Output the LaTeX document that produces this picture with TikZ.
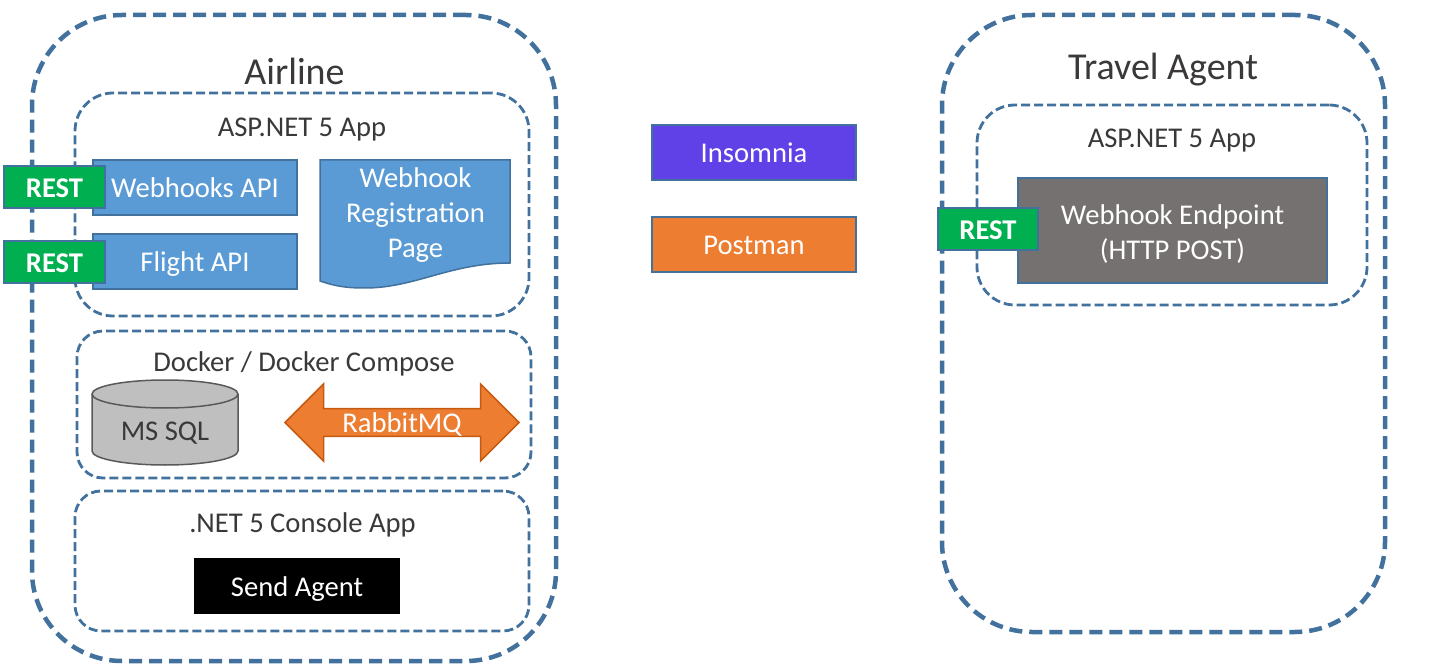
\documentclass[tikz,border=0pt]{standalone}
\usepackage{fontspec}
\setmainfont{Carlito}
\usetikzlibrary{shapes.arrows}
\definecolor{line500}{HTML}{41719C}
\definecolor{blue500}{HTML}{5B9BD5}
\definecolor{green500}{HTML}{00B050}
\definecolor{orange500}{HTML}{ED7D31}
\definecolor{orange700}{HTML}{C55A11}
\definecolor{purple500}{HTML}{6041E8}
\definecolor{gray500}{HTML}{767171}
\definecolor{gray300}{HTML}{BFBFBF}
\definecolor{gray700}{HTML}{595959}
\definecolor{text500}{HTML}{3B3838}
\tikzstyle{sizea}=[font=\fontsize{28.6}{35}\selectfont]
\tikzstyle{caption}=[sizea, text=text500, inner sep=0pt]
\tikzstyle{bigcaption}=[text=text500, inner sep=0pt, font=\fontsize{38}{44}\selectfont]
\tikzstyle{outerzone}=[draw=line500, line width=4.5pt, dash pattern=on 13pt off 7pt, rounded corners=90pt, rectangle, inner sep=0pt, outer sep=0pt]
\tikzstyle{innerzone}=[draw=line500, line width=2.8pt, dash pattern=on 9pt off 4pt, rectangle, inner sep=0pt, outer sep=0pt]
\tikzstyle{block}=[rectangle, draw=line500, line width=2pt, sizea, text=white, inner sep=0pt, outer sep=0pt, text height=20pt, text depth=0pt]
\tikzstyle{rest}=[block, fill=green500, minimum width=101pt, minimum height=42pt, font=\fontsize{28.6}{35}\selectfont\bfseries]

\begin{document}
\begin{tikzpicture}[x=1pt, y=-1pt]
	\useasboundingbox (0,0) rectangle (1446,668);
	% zones
	\node[outerzone, minimum width=524pt, minimum height=646pt] (airline) at (294,338) {};
	\node[outerzone, minimum width=443pt, minimum height=617pt] (travel) at (1163.5,323.5) {};
	\node[innerzone, rounded corners=38pt, minimum width=454pt, minimum height=223pt] (aspleft) at (302,204.5) {};
	\node[innerzone, rounded corners=26pt, minimum width=454pt, minimum height=147pt] (docker) at (304,404.5) {};
	\node[innerzone, rounded corners=26pt, minimum width=454pt, minimum height=140pt] (console) at (302,561) {};
	\node[innerzone, rounded corners=38pt, minimum width=390pt, minimum height=200pt] (aspright) at (1172,205) {};
	% captions
	\node[bigcaption] (airlinetext) at (294.5,71) {Airline};
	\node[bigcaption] (traveltext) at (1163,70) {Travel Agent};
	\node[caption] (asplefttext) at (302,130) {ASP.NET 5 App};
	\node[caption] (dockertext) at (304,364) {Docker / Docker Compose};
	\node[caption] (consoletext) at (302.5,525) {.NET 5 Console App};
	\node[caption] (asprighttext) at (1172,141) {ASP.NET 5 App};
	% airline app
	\node[block, fill=blue500, minimum width=204pt, minimum height=55pt] (webhooks) at (195,187.5) {Webhooks API};
	\node[block, fill=blue500, minimum width=204pt, minimum height=55pt] (flight) at (195,261.5) {Flight API};
	\node[rest] (restwebhooks) at (54.5,187.5) {REST};
	\node[rest] (restflight) at (54.5,262.5) {REST};
	\path[draw=line500, line width=1.5pt, fill=blue500] (320,160) -- (510,160) -- (510,263)
		.. controls (450,263) and (415,288) .. (365,288)
		.. controls (345,288) and (335,286) .. (320,281) -- cycle;
	\node[caption, text=white, align=center] (page) at (415.5,215) {Webhook\\Registration\\Page};
	% docker
	\path[draw=gray700, line width=1.5pt, fill=gray300] (92,394) -- (92,451)
		.. controls (92,458.7) and (124.5,465) .. (165,465)
		.. controls (205.5,465) and (238,458.7) .. (238,451) -- (238,394);
	\path[draw=gray700, line width=1.5pt, fill=gray300] (165,394) ellipse [x radius=73pt, y radius=14pt];
	\node[caption] (mssqltext) at (165,433) {MS SQL};
	\node[double arrow, draw=orange700, line width=1.5pt, fill=orange500, minimum height=234pt, minimum width=77pt, double arrow head extend=19pt, double arrow tip angle=90, inner sep=0pt, outer sep=0pt, sizea, text=white, text height=20pt, text depth=0pt] (rabbit) at (402,422.5) {RabbitMQ};
	% console
	\node[block, draw=black, fill=black, minimum width=204pt, minimum height=54pt] (sendagent) at (297,586) {Send Agent};
	% tools
	\node[block, fill=purple500, minimum width=204pt, minimum height=55pt] (insomnia) at (754,152.5) {Insomnia};
	\node[block, fill=orange500, minimum width=204pt, minimum height=55pt] (postman) at (754,244.5) {Postman};
	% travel agent app
	\node[block, fill=gray500, minimum width=309pt, minimum height=105pt] (endpoint) at (1172.5,230.5) {};
	\node[caption, text=white, align=center] (endpointtext) at (1172.5,234) {Webhook Endpoint\\(HTTP POST)};
	\node[rest, minimum width=100pt] (restendpoint) at (988,229.5) {REST};
\end{tikzpicture}
\end{document}
